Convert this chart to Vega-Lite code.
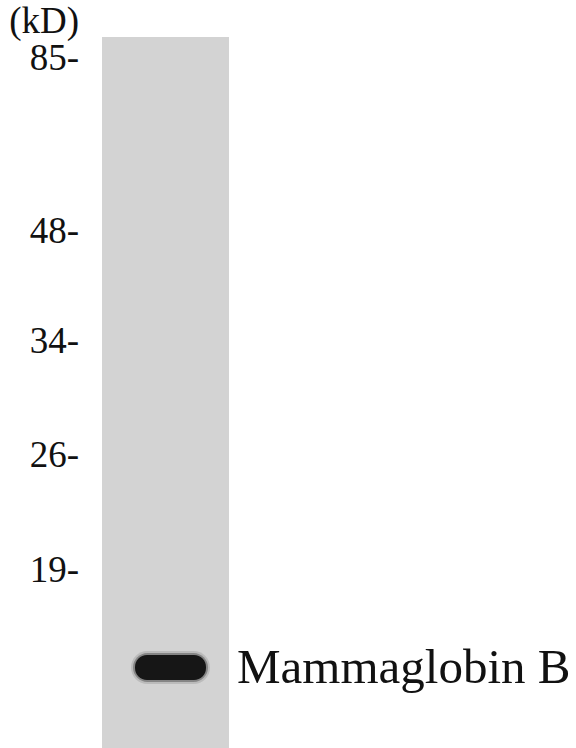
{
  "$schema": "https://vega.github.io/schema/vega-lite/v6.json",
  "width": 576,
  "height": 748,
  "autosize": {"type": "fit", "contains": "padding"},
  "padding": 0,
  "background": "white",
  "config": {"view": {"stroke": null}},
  "datasets": {
    "lane": [{"lane": "Lysate", "left": 10.2, "right": 22.9, "top": 3.7, "bottom": 74.8}],
    "bands": [{"protein": "Mammaglobin B", "left": 13.5, "right": 20.6, "top": 65.5, "bottom": 68.0, "labelX": 23.7, "labelY": 68.3}],
    "markers": [
      {"label": "(kD)", "x": 7.9, "y": 3.3},
      {"label": "85-", "x": 7.9, "y": 7.0},
      {"label": "48-", "x": 7.9, "y": 24.3},
      {"label": "34-", "x": 7.9, "y": 35.3},
      {"label": "26-", "x": 7.9, "y": 46.7},
      {"label": "19-", "x": 7.9, "y": 58.2}
    ]
  },
  "layer": [
    {
      "data": {"name": "lane"},
      "mark": {"type": "rect", "color": "#d3d3d3"},
      "encoding": {
        "x": {"field": "left", "type": "quantitative", "scale": {"domain": [0, 57.6], "nice": false, "zero": false}, "axis": null},
        "x2": {"field": "right"},
        "y": {"field": "top", "type": "quantitative", "scale": {"domain": [0, 74.8], "reverse": true, "nice": false, "zero": false}, "axis": null},
        "y2": {"field": "bottom"}
      }
    },
    {
      "data": {"name": "bands"},
      "mark": {"type": "rect", "color": "#333333", "opacity": 0.15, "cornerRadius": 17, "xOffset": -4, "x2Offset": 4, "yOffset": -4, "y2Offset": 4},
      "encoding": {
        "x": {"field": "left", "type": "quantitative"},
        "x2": {"field": "right"},
        "y": {"field": "top", "type": "quantitative"},
        "y2": {"field": "bottom"}
      }
    },
    {
      "data": {"name": "bands"},
      "mark": {"type": "rect", "color": "#222222", "opacity": 0.35, "cornerRadius": 15, "xOffset": -2, "x2Offset": 2, "yOffset": -2, "y2Offset": 2},
      "encoding": {
        "x": {"field": "left", "type": "quantitative"},
        "x2": {"field": "right"},
        "y": {"field": "top", "type": "quantitative"},
        "y2": {"field": "bottom"}
      }
    },
    {
      "data": {"name": "bands"},
      "mark": {"type": "rect", "color": "#161616", "cornerRadius": 12},
      "encoding": {
        "x": {"field": "left", "type": "quantitative"},
        "x2": {"field": "right"},
        "y": {"field": "top", "type": "quantitative"},
        "y2": {"field": "bottom"}
      }
    },
    {
      "data": {"name": "bands"},
      "mark": {"type": "text", "font": "Liberation Serif", "fontSize": 49, "align": "left", "baseline": "alphabetic", "color": "#111111"},
      "encoding": {
        "x": {"field": "labelX", "type": "quantitative"},
        "y": {"field": "labelY", "type": "quantitative"},
        "text": {"field": "protein"}
      }
    },
    {
      "data": {"name": "markers"},
      "mark": {"type": "text", "font": "Liberation Serif", "fontSize": 37, "align": "right", "baseline": "alphabetic", "color": "#111111"},
      "encoding": {
        "x": {"field": "x", "type": "quantitative"},
        "y": {"field": "y", "type": "quantitative"},
        "text": {"field": "label"}
      }
    }
  ]
}
